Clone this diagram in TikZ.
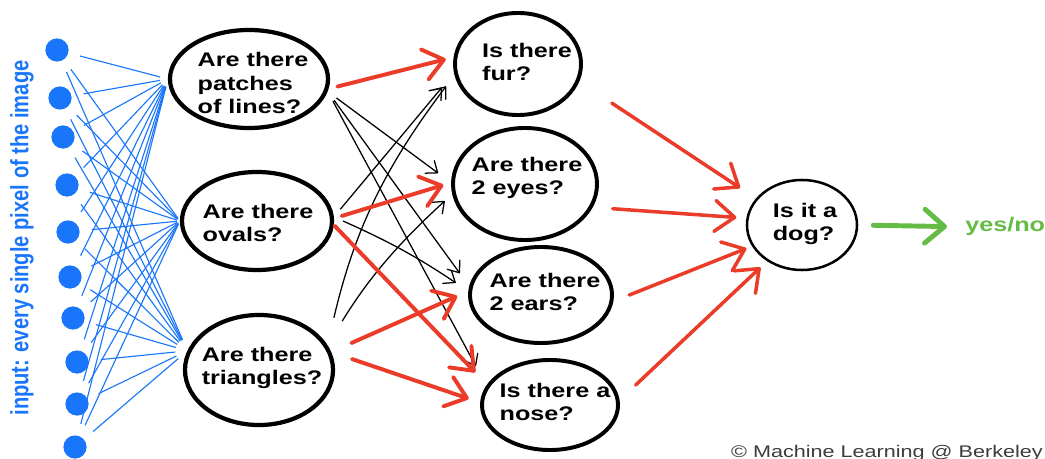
\documentclass[tikz,border=0pt]{standalone}
\usepackage{fontspec}
\usepackage{graphicx}
\usetikzlibrary{arrows.meta, shapes.geometric}
\newfontfamily\qfont{Liberation Sans}[FakeStretch=1.28]
\newfontfamily\lfont{Liberation Sans}
\definecolor{pxblue}{RGB}{25,118,250}
\definecolor{arrred}{RGB}{234,60,40}
\definecolor{okgreen}{RGB}{100,188,70}
\definecolor{cpgray}{RGB}{60,60,60}
\def\upx{0.025cm}
\tikzset{
  qnode/.style={ellipse, draw=black, line width=3pt, inner sep=0pt},
  qtext/.style={font=\qfont\bfseries\fontsize{14}{16.5}\selectfont, align=left, inner sep=0pt},
  pixel/.style={circle, fill=pxblue, inner sep=0pt, minimum size=0.58cm},
  blueline/.style={draw=pxblue, line width=0.8pt},
  thinarr/.style={draw=black, line width=0.9pt, -{Straight Barb[length=7pt,width=11pt,round]}},
  redarr/.style={draw=arrred, line width=2.8pt, line cap=round, -{Straight Barb[length=14pt,width=22pt,round]}},
}

\begin{document}
\begin{tikzpicture}[x=0.025cm, y=-0.025cm]
    % --- 0. 畫布大小 ---
    \useasboundingbox (0,0) rectangle (1045,459);

    % --- 1. 輸入像素 ---
    \foreach \i/\x/\y in {1/57/50, 2/60/98, 3/63/137, 4/67/185, 5/68/232,
                          6/70/277, 7/73/318, 8/77/362, 9/77/404, 10/75/447}
        \node[pixel] (px\i) at (\x,\y) {};
    \node[rotate=90, text=pxblue, inner sep=0pt, font=\lfont\bfseries\fontsize{14.3}{17}\selectfont]
        (inp) at (22,238) {\scalebox{1}[1.25]{input: every single pixel of the image}};

    % --- 2. 第一層：線條、橢圓、三角形 ---
    \node[qnode, minimum width=3.95cm, minimum height=2.45cm] (q1) at (249,79) {};
    \node[qnode, minimum width=3.75cm, minimum height=2.45cm] (q2) at (257,221) {};
    \node[qnode, minimum width=3.7cm, minimum height=2.75cm] (q3) at (259,370) {};
    \node[qtext] (q1t) at (253,83) {Are there\\patches\\of lines?};
    \node[qtext] (q2t) at (258,223) {Are there\\ovals?};
    \node[qtext] (q3t) at (262,368) {Are there\\triangles?};

    % --- 3. 第二層：毛、眼、耳、鼻 ---
    \node[qnode, line width=2.8pt, minimum width=3.15cm, minimum height=2.55cm] (f1) at (518,64) {};
    \node[qnode, line width=2.8pt, minimum width=3.6cm, minimum height=2.8cm] (f2) at (525,184) {};
    \node[qnode, line width=2.8pt, minimum width=3.55cm, minimum height=2.4cm] (f3) at (541,295) {};
    \node[qnode, line width=2.8pt, minimum width=3.4cm, minimum height=2.25cm] (f4) at (550,405) {};
    \node[qtext] (f1t) at (527,62) {Is there\\fur?};
    \node[qtext] (f2t) at (527,178) {Are there\\2 eyes?};
    \node[qtext] (f3t) at (545,292) {Are there\\2 ears?};
    \node[qtext] (f4t) at (555,402) {Is there a\\nose?};

    % --- 4. 輸出 ---
    \node[qnode, line width=1.8pt, minimum width=2.75cm, minimum height=2.25cm] (dog) at (802,225) {};
    \node[qtext] (dogt) at (805,224) {Is it a\\dog?};
    \node[qtext, text=okgreen, anchor=base west] (yn) at (965,232) {yes/no};
    \node[anchor=base east, inner sep=0pt, text=cpgray, font=\qfont\fontsize{12}{14}\selectfont]
        (cr) at (1043,457) {© Machine Learning @ Berkeley};

    % --- 5. 輸入到第一層 ---
    \foreach \i in {1,...,10}
        \foreach \h/\a/\s in {q1/west/8, q2/west/3, q3/165/12}
            \draw[blueline, shorten <=12*\upx, shorten >=\s*\upx] (px\i) -- (\h.\a);

    % --- 6. 第一層到第二層 ---
    \draw[thinarr, shorten <=11*\upx, shorten >=16*\upx] (q1.-9) -- (f2.179);
    \draw[thinarr, shorten <=11*\upx, shorten >=16*\upx] (q1.-9) -- (f3.173);
    \draw[thinarr, shorten <=11*\upx, shorten >=22*\upx] (q1.-9) -- (f4.163);
    \draw[thinarr, shorten <=10*\upx, shorten >=19*\upx] (q2.3) -- (f1.188);
    \draw[thinarr, shorten <=10*\upx, shorten >=15*\upx] (q2.3) to[bend left=5] (f3.177);
    \draw[thinarr, shorten <=28*\upx, shorten >=14*\upx] (q3.20) to[bend left=12] (f1.190);
    \draw[thinarr, shorten <=28*\upx, shorten >=10*\upx] (q3.20) to[bend left=8] (f2.188);

    \draw[redarr, shorten <=9*\upx, shorten >=8*\upx] (q1.-7) -- (f1.174);
    \draw[redarr, shorten <=8*\upx, shorten >=8*\upx] (q2.2) -- (f2.179);
    \draw[redarr, shorten <=1*\upx, shorten >=17*\upx] (q2.-3) -- (f4.162);
    \draw[redarr, shorten <=22*\upx, shorten >=12*\upx] (q3.14) -- (f3.177);
    \draw[redarr, shorten <=22*\upx, shorten >=12*\upx] (q3.14) -- (f4.178);

    % --- 7. 第二層到輸出 ---
    \draw[redarr, line width=2.5pt, shorten <=39*\upx, shorten >=19*\upx] (f1.-16) -- (dog.150);
    \draw[redarr, line width=2.5pt, shorten <=20*\upx, shorten >=10*\upx] (f2.-19) -- (dog.173);
    \draw[redarr, line width=2.5pt, shorten <=17*\upx, shorten >=6*\upx] (f3.-5) -- (dog.203);
    \draw[redarr, line width=2.5pt, shorten <=22*\upx, shorten >=9*\upx] (f4.4) -- (dog.226);

    \draw[draw=okgreen, line width=3.5pt, line cap=round,
          -{Straight Barb[length=14pt,width=24pt,round]},
          shorten <=15*\upx, shorten >=18*\upx] (dog.east) -- (yn.west);
\end{tikzpicture}
\end{document}
